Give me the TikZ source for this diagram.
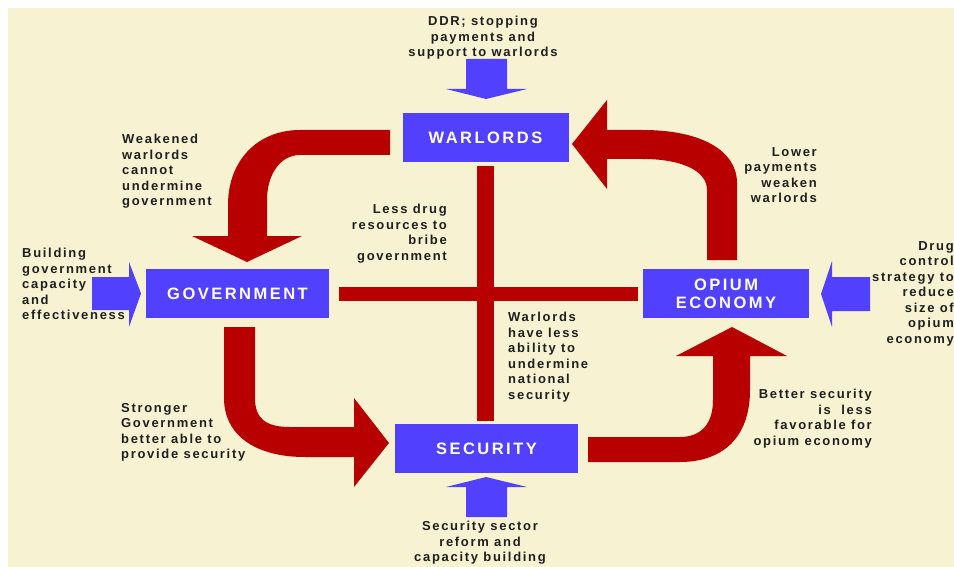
\documentclass[tikz,border=0pt]{standalone}
\usepackage{fontspec}
\newfontfamily\lblfont[LetterSpace=13]{Liberation Sans}
\newfontfamily\boxfont[LetterSpace=15]{Liberation Sans}
\definecolor{paper}{RGB}{247,242,209}
\definecolor{boxblue}{RGB}{82,64,255}
\definecolor{flowred}{RGB}{184,0,0}
\tikzset{
  box/.style={fill=boxblue, text=white, inner sep=0pt, minimum height=49pt,
    align=center, font=\boxfont\bfseries\fontsize{16.5}{18}\selectfont},
  note/.style={inner sep=0pt, text=black!88,
    font=\lblfont\bfseries\fontsize{13}{15.5}\selectfont},
  flow/.style={fill=flowred},
  push/.style={fill=boxblue},
}

\begin{document}
\begin{tikzpicture}[x=1pt,y=-1pt]
	\useasboundingbox (0,0) rectangle (954,567);
	\fill[paper] (8,8) rectangle (954,567);

	% the four sectors
	\node[box, minimum width=166pt] (war) at (485.5,138) {WARLORDS};
	\node[box, minimum width=183pt] (gov) at (237.5,293.5) {GOVERNMENT};
	\node[box, minimum width=166pt] (opi) at (726,293.5) {OPIUM\\ECONOMY};
	\node[box, minimum width=183pt] (sec) at (486.5,448.5) {SECURITY};

	% red cross between the sectors
	\draw[flowred, line width=17pt] ([yshift=-3pt]war.south) -- ([yshift=3pt]war.south |- sec.north);
	\draw[flowred, line width=14pt] ([xshift=10pt]gov.east) -- ([xshift=-5pt]opi.west);

	% curved red arrows
	\fill[flow] (390,130) -- (300,130) .. controls (258,130) and (228,160) .. (228,205)
		-- (228,236) -- (192,236) -- (247,262) -- (302,236) -- (267,236) -- (267,200)
		.. controls (267,175) and (280,155) .. (300,155) -- (390,155) -- cycle;
	\fill[flow] (707,260) -- (707,190) .. controls (707,170) and (680,159) .. (643,159)
		-- (607,159) -- (607,189) -- (572,144) -- (607,100) -- (607,130) -- (643,130)
		.. controls (700,130) and (737,150) .. (737,183) -- (737,260) -- cycle;
	\fill[flow] (224,327) -- (255,327) -- (255,398) .. controls (255,418) and (265,427) .. (290,427)
		-- (354,427) -- (354,398) -- (389,443) -- (354,487) -- (354,457) -- (305,457)
		.. controls (255,457) and (224,435) .. (224,398) -- cycle;
	\fill[flow] (588,437) -- (680,437) .. controls (700,437) and (713,425) .. (713,400)
		-- (713,356) -- (676,356) -- (732,327) -- (787,356) -- (750,356) -- (750,390)
		.. controls (750,440) and (720,462) .. (680,462) -- (588,462) -- cycle;

	% blue arrows from outside
	\fill[push] (466,59) -- (507,59) -- (507,89) -- (527,89) -- (486,99) -- (446,89) -- (466,89) -- cycle;
	\fill[push] (466,517) -- (507,517) -- (507,487) -- (527,487) -- (486,477) -- (446,487) -- (466,487) -- cycle;
	\fill[push] (92,277) -- (129,277) -- (129,262) -- (141,293.5) -- (129,327) -- (129,310) -- (92,310) -- cycle;
	\fill[push] (870,277) -- (832,277) -- (832,261) -- (821,294) -- (832,327) -- (832,311) -- (870,311) -- cycle;

	% labels
	\node[note, anchor=north, align=center] (ddr) at (483,16) {DDR; stopping\\payments and\\support to warlords};
	\node[note, anchor=north west, align=left] (weak) at (122,134) {Weakened\\warlords\\cannot\\undermine\\government};
	\node[note, anchor=north west, align=left] (build) at (22,248) {Building\\government\\capacity\\and\\effectiveness};
	\node[note, anchor=north east, align=right] (lower) at (817,147) {Lower\\payments\\weaken\\warlords};
	\node[note, anchor=north east, align=right] (drug) at (954,241) {Drug\\control\\strategy to\\reduce\\size of\\opium\\economy};
	\node[note, anchor=north east, align=right] (less) at (447,204) {Less drug\\resources to\\bribe\\government};
	\node[note, anchor=north west, align=left] (abil) at (508,312) {Warlords\\have less\\ability to\\undermine\\national\\security};
	\node[note, anchor=north west, align=left] (strong) at (121,403) {Stronger\\Government\\better able to\\provide security};
	\node[note, anchor=north east, align=right] (better) at (872,389) {Better security\\is\ \ less\\favorable for\\opium economy};
	\node[note, anchor=north, align=center] (ssr) at (480,521) {Security sector\\reform and\\capacity building};
\end{tikzpicture}
\end{document}
